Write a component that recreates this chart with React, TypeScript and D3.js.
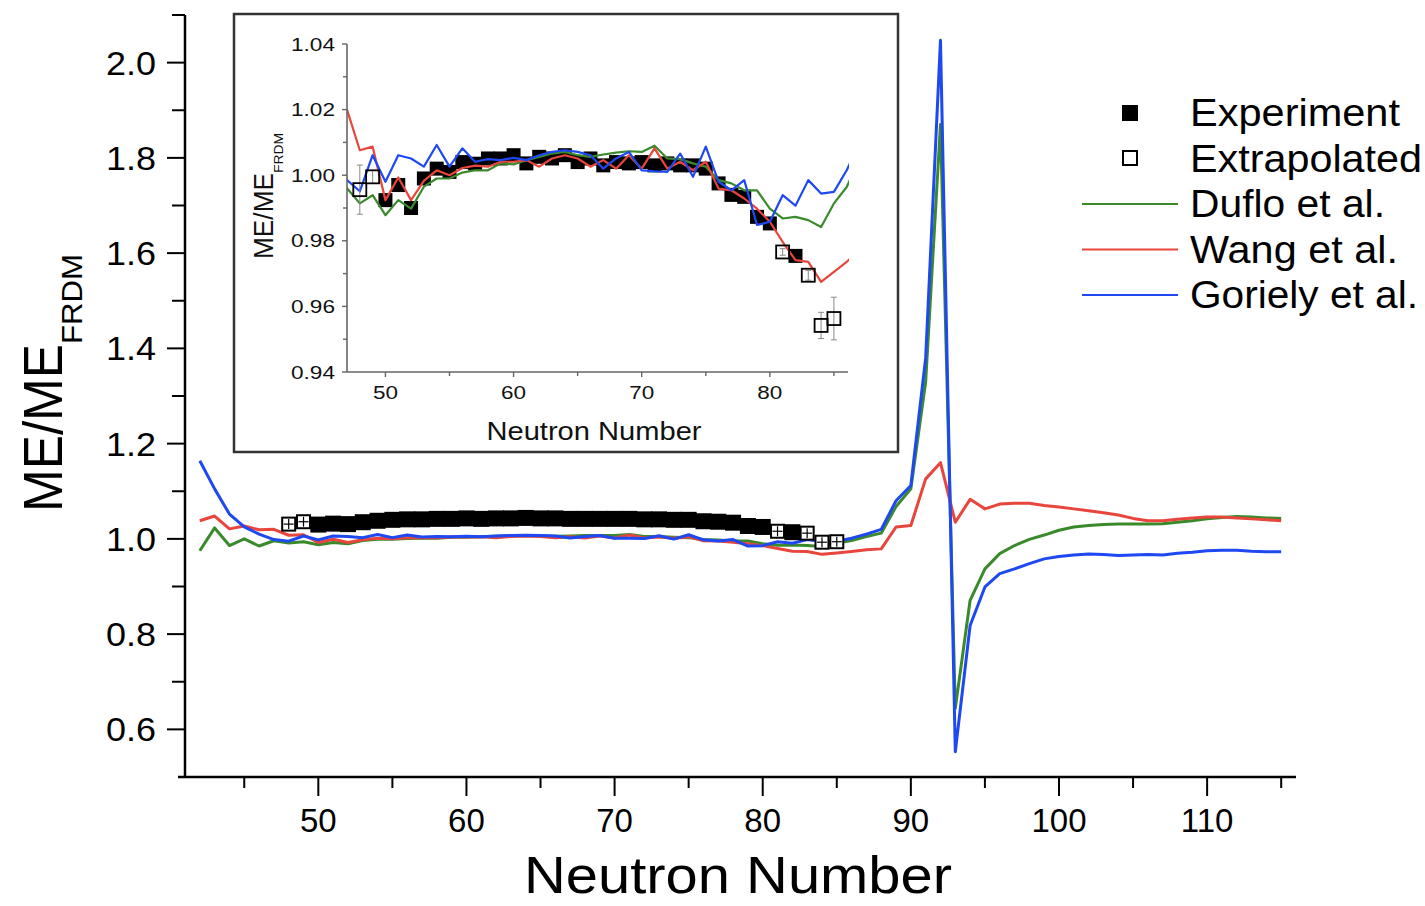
import React from 'react';
import * as d3 from 'd3';

// ---------- data ----------
const neutronNumbers = d3.range(42, 116);

const duflo = [
  0.975, 1.023, 0.986, 1.0, 0.985, 0.996, 0.9914, 0.9939, 0.9878, 0.9924,
  0.9898, 0.9965, 0.999, 0.999, 1.0008, 1.0015, 1.0015, 1.0036, 1.0033, 1.0046,
  1.0056, 1.0066, 1.0071, 1.0061, 1.0056, 1.0063, 1.0069, 1.0073, 1.0071, 1.009,
  1.0051, 1.0049, 1.0036, 1.0026, 0.9985, 0.9975, 0.9954, 0.9954, 0.9898, 0.9868,
  0.9873, 0.9863, 0.9842, 0.9914, 0.9964, 1.005, 1.012, 1.068, 1.105, 1.33,
  1.87, 0.644, 0.871, 0.937, 0.969, 0.986, 0.999, 1.008, 1.018, 1.025,
  1.028, 1.03, 1.031, 1.031, 1.031, 1.032, 1.035, 1.038, 1.042, 1.045,
  1.047, 1.046, 1.044, 1.043,
];

const wang = [
  1.038, 1.048, 1.021, 1.027, 1.019, 1.02, 1.0076, 1.0087, 0.9924, 0.9993,
  0.9924, 0.9983, 1.0015, 1.0, 1.0022, 1.0029, 1.0026, 1.0041, 1.0041, 1.0046,
  1.0026, 1.0051, 1.0061, 1.0051, 1.0026, 1.0046, 1.002, 1.0061, 1.002, 1.0082,
  1.002, 1.0041, 1.0015, 1.0041, 0.9959, 0.9954, 0.9929, 0.9898, 0.9858, 0.9797,
  0.9741, 0.9736, 0.9675, 0.9705, 0.9736, 0.977, 0.979, 1.025, 1.028, 1.126,
  1.16, 1.035, 1.083, 1.063, 1.073, 1.075, 1.075, 1.07, 1.067, 1.063,
  1.059, 1.055, 1.05, 1.043, 1.038, 1.038, 1.041, 1.044, 1.046, 1.046,
  1.044, 1.042, 1.04, 1.038,
];

const goriely = [
  1.164, 1.105, 1.052, 1.025, 1.01, 0.9985, 0.9951, 1.0061, 0.998, 1.0061,
  1.0051, 1.0026, 1.0092, 1.0026, 1.0082, 1.0041, 1.0049, 1.0046, 1.0053, 1.0046,
  1.0061, 1.0071, 1.0076, 1.0071, 1.0061, 1.002, 1.0051, 1.0071, 1.0015, 1.0012,
  1.001, 1.0066, 0.9995, 1.0087, 0.998, 0.9954, 0.9985, 0.9848, 0.9858, 0.9939,
  0.9907, 0.9985, 0.9944, 0.9949, 1.0015, 1.01, 1.02, 1.08, 1.112, 1.38,
  2.047, 0.553, 0.818, 0.899, 0.927, 0.937, 0.948, 0.958, 0.963, 0.966,
  0.968, 0.967, 0.965, 0.966, 0.967, 0.966, 0.97, 0.972, 0.975, 0.976,
  0.976, 0.974, 0.973, 0.973,
];

const expN = [
  50, 51, 52, 53, 54, 55, 56, 57, 58, 59, 60, 61, 62, 63, 64, 65,
  66, 67, 68, 69, 70, 71, 72, 73, 74, 75, 76, 77, 78, 79, 80, 82,
];
const expMain = [
  1.03, 1.032, 1.031, 1.035, 1.038, 1.04, 1.041, 1.041, 1.042, 1.042, 1.043, 1.042, 1.043, 1.043, 1.044, 1.043,
  1.043, 1.042, 1.042, 1.042, 1.042, 1.042, 1.041, 1.041, 1.04, 1.04, 1.037, 1.036, 1.034, 1.027, 1.025, 1.014,
];
const expInset = [
  0.9924, 0.997, 0.99, 0.999, 1.002, 1.001, 1.004, 1.0035, 1.0051, 1.0051, 1.0061, 1.0036, 1.0056, 1.0051, 1.0061, 1.004,
  1.0051, 1.003, 1.004, 1.0036, 1.004, 1.003, 1.0036, 1.003, 1.003, 1.002, 0.9975, 0.994, 0.9934, 0.9873, 0.9853, 0.9754,
];

const extrapN = [48, 49, 81, 83, 84, 85];
const extrapMain = [1.031, 1.036, 1.016, 1.012, 0.993, 0.994];
const extrapInset = [0.9956, 0.9995, 0.9766, 0.9695, 0.9542, 0.9563];
const extrapErr = [0.0075, 0.002, 0.001, 0.0015, 0.004, 0.0065];

const xTicksMain = [50, 60, 70, 80, 90, 100, 110];
const xMinorMain = [45, 55, 65, 75, 85, 95, 105, 115];
const yTicksMain = [0.6, 0.8, 1.0, 1.2, 1.4, 1.6, 1.8, 2.0];
const yMinorMain = [0.7, 0.9, 1.1, 1.3, 1.5, 1.7, 1.9, 2.1];
const xTicksInset = [50, 60, 70, 80];
const xMinorInset = [55, 65, 75, 85];
const yTicksInset = [0.94, 0.96, 0.98, 1.0, 1.02, 1.04];
const yMinorInset = [0.95, 0.97, 0.99, 1.01, 1.03];

const seriesNames = ['Duflo et al.', 'Wang et al.', 'Goriely et al.'];
const seriesColors = ['#3a8a2c', '#e8463c', '#1d48f2'];
const seriesData = [duflo, wang, goriely];

const FONT = "'Liberation Sans', Arial, Helvetica, sans-serif";

export default function App() {
  // main plot scales
  const x = d3.scaleLinear().domain([41, 116]).range([185, 1296]);
  const y = d3.scaleLinear().domain([0.5, 2.1]).range([777, 15]);
  // inset scales
  const xi = d3.scaleLinear().domain([47, 86.1]).range([347, 848]);
  const yi = d3.scaleLinear().domain([0.94, 1.04]).range([372, 44]);

  const lineMain = (vals: number[]) =>
    d3.line<number>().x((_, i) => x(neutronNumbers[i])).y((v) => y(v))(vals) || '';
  const lineInset = (vals: number[]) =>
    d3.line<number>().x((_, i) => xi(neutronNumbers[i])).y((v) => yi(v))(vals) || '';

  const sq = 16;
  const sqI = 14;

  return (
    <svg
      width={1425}
      height={906}
      style={{ position: 'absolute', left: 0, top: 0, background: '#fff' }}
      fontFamily={FONT}
    >
      <defs>
        <clipPath id="insetClip">
          <rect x={347} y={40} width={502} height={334} />
        </clipPath>
      </defs>
      <rect x={0} y={0} width={1425} height={906} fill="#fff" />

      {/* ---------- main plot lines ---------- */}
      {seriesData.map((d, k) => (
        <path key={k} d={lineMain(d)} fill="none" stroke={seriesColors[k]} strokeWidth={3} strokeLinejoin="round" />
      ))}

      {/* main experiment squares */}
      {expN.map((n, i) => (
        <rect key={'e' + i} x={x(n) - sq / 2} y={y(expMain[i]) - sq / 2} width={sq} height={sq} fill="#000" />
      ))}
      {extrapN.map((n, i) => (
        <g key={'x' + i}>
          <rect x={x(n) - 6.5} y={y(extrapMain[i]) - 6.5} width={13} height={13} fill="#fff" stroke="#000" strokeWidth={2} />
          <line x1={x(n)} x2={x(n)} y1={y(extrapMain[i]) - 5} y2={y(extrapMain[i]) + 5} stroke="#000" strokeWidth={1.2} />
          <line x1={x(n) - 5} x2={x(n) + 5} y1={y(extrapMain[i])} y2={y(extrapMain[i])} stroke="#000" strokeWidth={1.2} />
        </g>
      ))}

      {/* ---------- main axes ---------- */}
      <line x1={185} x2={185} y1={15} y2={778} stroke="#000" strokeWidth={2.5} />
      <line x1={178} x2={1296} y1={777} y2={777} stroke="#000" strokeWidth={2.5} />
      {yTicksMain.map((t) => (
        <g key={'yt' + t}>
          <line x1={167} x2={185} y1={y(t)} y2={y(t)} stroke="#000" strokeWidth={2} />
          <text x={156} y={y(t)} textAnchor="end" dominantBaseline="central" fontSize={34} textLength={50} lengthAdjust="spacingAndGlyphs" fill="#000">
            {t.toFixed(1)}
          </text>
        </g>
      ))}
      {yMinorMain.map((t) => (
        <line key={'ym' + t} x1={172} x2={185} y1={y(t)} y2={y(t)} stroke="#000" strokeWidth={2} />
      ))}
      {xTicksMain.map((t) => (
        <g key={'xt' + t}>
          <line x1={x(t)} x2={x(t)} y1={777} y2={796} stroke="#000" strokeWidth={2} />
          <text x={x(t)} y={832} textAnchor="middle" fontSize={33} fill="#000">
            {t}
          </text>
        </g>
      ))}
      {xMinorMain.map((t) => (
        <line key={'xm' + t} x1={x(t)} x2={x(t)} y1={777} y2={788} stroke="#000" strokeWidth={2} />
      ))}
      <text x={738} y={893} textAnchor="middle" fontSize={52} textLength={428} lengthAdjust="spacingAndGlyphs" fill="#000">
        Neutron Number
      </text>
      <text transform="translate(62,512) rotate(-90)" fontSize={56} fill="#000">
        <tspan textLength={168} lengthAdjust="spacingAndGlyphs">ME/ME</tspan>
        <tspan dy={20} fontSize={30} textLength={90} lengthAdjust="spacingAndGlyphs">FRDM</tspan>
      </text>

      {/* ---------- legend ---------- */}
      <rect x={1122} y={105} width={16} height={16} fill="#000" />
      <rect x={1123} y={151} width={14} height={14} fill="#fff" stroke="#000" strokeWidth={2} />
      {seriesNames.map((s, k) => (
        <line key={'ll' + k} x1={1082} x2={1178} y1={204 + k * 45.5} y2={204 + k * 45.5} stroke={seriesColors[k]} strokeWidth={2.2} />
      ))}
      {['Experiment', 'Extrapolated', ...seriesNames].map((s, k) => (
        <text
          key={'lt' + k}
          x={1190}
          y={126 + k * 45.5}
          fontSize={38}
          textLength={[210, 232, 195, 208, 228][k]}
          lengthAdjust="spacingAndGlyphs"
          fill="#000"
        >
          {s}
        </text>
      ))}

      {/* ---------- inset ---------- */}
      <rect x={234} y={14} width={664} height={438} fill="#fff" stroke="#333" strokeWidth={2.5} />
      {expN.map((n, i) => (
        <rect key={'ie' + i} x={xi(n) - sqI / 2} y={yi(expInset[i]) - sqI / 2} width={sqI} height={sqI} fill="#000" />
      ))}
      <g clipPath="url(#insetClip)">
        {seriesData.map((d, k) => (
          <path key={'il' + k} d={lineInset(d)} fill="none" stroke={seriesColors[k]} strokeWidth={2.2} strokeLinejoin="round" />
        ))}
      </g>
      {extrapN.map((n, i) => {
        const cx = xi(n);
        const cy = yi(extrapInset[i]);
        const e1 = yi(extrapInset[i] + extrapErr[i]);
        const e2 = yi(extrapInset[i] - extrapErr[i]);
        return (
          <g key={'ix' + i}>
            <line x1={cx} x2={cx} y1={e1} y2={e2} stroke="#888" strokeWidth={1} />
            <line x1={cx - 3} x2={cx + 3} y1={e1} y2={e1} stroke="#888" strokeWidth={1} />
            <line x1={cx - 3} x2={cx + 3} y1={e2} y2={e2} stroke="#888" strokeWidth={1} />
            <rect x={cx - 6.5} y={cy - 6.5} width={13} height={13} fill="none" stroke="#000" strokeWidth={1.8} />
          </g>
        );
      })}
      {/* inset axes */}
      <line x1={347} x2={347} y1={44} y2={372} stroke="#666" strokeWidth={1.6} />
      <line x1={347} x2={848} y1={372} y2={372} stroke="#666" strokeWidth={1.6} />
      {yTicksInset.map((t) => (
        <g key={'iyt' + t}>
          <line x1={342} x2={347} y1={yi(t)} y2={yi(t)} stroke="#666" strokeWidth={1.4} />
          <text x={335} y={yi(t)} textAnchor="end" dominantBaseline="central" fontSize={19} textLength={44} lengthAdjust="spacingAndGlyphs" fill="#111">
            {t.toFixed(2)}
          </text>
        </g>
      ))}
      {yMinorInset.map((t) => (
        <line key={'iym' + t} x1={343} x2={347} y1={yi(t)} y2={yi(t)} stroke="#666" strokeWidth={1.4} />
      ))}
      {xTicksInset.map((t) => (
        <g key={'ixt' + t}>
          <line x1={xi(t)} x2={xi(t)} y1={372} y2={377} stroke="#666" strokeWidth={1.4} />
          <text x={xi(t)} y={399} textAnchor="middle" fontSize={19} textLength={25} lengthAdjust="spacingAndGlyphs" fill="#111">
            {t}
          </text>
        </g>
      ))}
      {xMinorInset.map((t) => (
        <line key={'ixm' + t} x1={xi(t)} x2={xi(t)} y1={372} y2={376} stroke="#666" strokeWidth={1.4} />
      ))}
      <text x={594} y={440} textAnchor="middle" fontSize={25} textLength={215} lengthAdjust="spacingAndGlyphs" fill="#111">
        Neutron Number
      </text>
      <text transform="translate(273,259) rotate(-90)" fontSize={28} fill="#111">
        <tspan textLength={86} lengthAdjust="spacingAndGlyphs">ME/ME</tspan>
        <tspan dy={10} fontSize={13} textLength={40} lengthAdjust="spacingAndGlyphs">FRDM</tspan>
      </text>
    </svg>
  );
}
